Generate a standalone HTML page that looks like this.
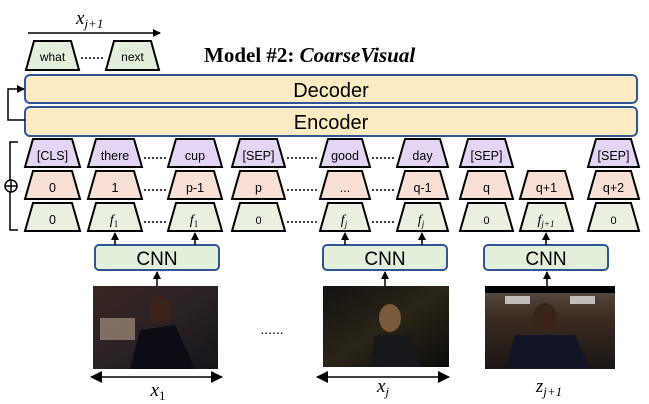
<!DOCTYPE html>
<html><head><meta charset="utf-8"><style>
html,body{margin:0;padding:0;background:#fff;width:649px;height:404px;overflow:hidden}
svg{display:block}
</style></head><body>
<svg width="649" height="404" viewBox="0 0 649 404" xmlns="http://www.w3.org/2000/svg" font-family="Liberation Sans, DejaVu Sans, sans-serif">
<defs>
<marker id="ah" markerWidth="8" markerHeight="8" refX="7" refY="4" orient="auto" markerUnits="userSpaceOnUse"><path d="M0,0 L8,4 L0,8 z" fill="#000"/></marker>
<marker id="ahs" markerWidth="12" markerHeight="12" refX="11" refY="6" orient="auto-start-reverse" markerUnits="userSpaceOnUse"><path d="M0,0 L12,6 L0,12 z" fill="#000"/></marker>
<linearGradient id="g1" x1="0" y1="0" x2="1" y2="1"><stop offset="0" stop-color="#3a2420"/><stop offset=".5" stop-color="#2a2226"/><stop offset="1" stop-color="#15151a"/></linearGradient>
<linearGradient id="g2" x1="0" y1="0" x2="1" y2="1"><stop offset="0" stop-color="#141210"/><stop offset=".5" stop-color="#2a2418"/><stop offset="1" stop-color="#0d0c0a"/></linearGradient>
<linearGradient id="g3" x1="0" y1="0" x2="0" y2="1"><stop offset="0" stop-color="#5a4e44"/><stop offset=".4" stop-color="#3a2a20"/><stop offset="1" stop-color="#1a1614"/></linearGradient>
</defs>

<line x1="28" y1="33" x2="160" y2="33" stroke="#000" stroke-width="1.5" marker-end="url(#ah)"/>
<text x="76" y="24" font-family="Liberation Serif, serif" font-style="italic" font-size="19">x<tspan font-size="13" dy="4">j+1</tspan></text>

<g stroke="#000" stroke-width="2" fill="#e2efda">
<path d="M34,41 L71,41 L79,70 L26,70 Z"/>
<path d="M114,41 L151,41 L159,70 L106,70 Z"/>
</g>
<text x="52.5" y="61" font-size="12" text-anchor="middle">what</text>
<text x="132.5" y="61" font-size="12" text-anchor="middle">next</text>
<line x1="81" y1="58" x2="105" y2="58" stroke="#000" stroke-width="1.5" stroke-dasharray="2,2"/>

<text x="204" y="62" font-family="Liberation Serif, serif" font-weight="bold" font-size="21">Model #2: <tspan font-style="italic">CoarseVisual</tspan></text>

<rect x="25" y="75" width="612" height="28" rx="5" fill="#fdebc4" stroke="#2f5597" stroke-width="2"/>
<rect x="25" y="107" width="612" height="29" rx="5" fill="#fdebc4" stroke="#2f5597" stroke-width="2"/>
<text x="331" y="97" font-size="20" text-anchor="middle">Decoder</text>
<text x="331" y="129" font-size="20" text-anchor="middle">Encoder</text>
<path d="M25,120 L8,120 L8,89 L24,89" fill="none" stroke="#000" stroke-width="1.5" marker-end="url(#ah)"/>

<path d="M18,142 L10,142 L10,230 L18,230" fill="none" stroke="#000" stroke-width="1.5"/>
<circle cx="11" cy="186" r="6" fill="#fff" stroke="#000" stroke-width="1.5"/>
<line x1="5" y1="186" x2="17" y2="186" stroke="#000" stroke-width="1.5"/>
<line x1="11" y1="180" x2="11" y2="192" stroke="#000" stroke-width="1.5"/>

<g stroke="#000" stroke-width="2">
<g fill="#e5d5f5">
<path d="M33,139 L72,139 L80,167 L25,167 Z"/>
<path d="M96,139 L134,139 L142,167 L88,167 Z"/>
<path d="M176,139 L214,139 L222,167 L168,167 Z"/>
<path d="M240,139 L277,139 L285,167 L232,167 Z"/>
<path d="M328,139 L362,139 L370,167 L320,167 Z"/>
<path d="M405,139 L440,139 L448,167 L397,167 Z"/>
<path d="M468,139 L505,139 L513,167 L460,167 Z"/>
<path d="M596,139 L631,139 L639,167 L588,167 Z"/>
</g>
<g fill="#f9e0d4">
<path d="M33,171 L72,171 L80,199 L25,199 Z"/>
<path d="M96,171 L134,171 L142,199 L88,199 Z"/>
<path d="M176,171 L214,171 L222,199 L168,199 Z"/>
<path d="M240,171 L277,171 L285,199 L232,199 Z"/>
<path d="M328,171 L362,171 L370,199 L320,199 Z"/>
<path d="M405,171 L440,171 L448,199 L397,199 Z"/>
<path d="M468,171 L505,171 L513,199 L460,199 Z"/>
<path d="M528,171 L565,171 L573,199 L520,199 Z"/>
<path d="M596,171 L631,171 L639,199 L588,199 Z"/>
</g>
<g fill="#ebf1e1">
<path d="M33,203 L72,203 L80,231 L25,231 Z"/>
<path d="M96,203 L134,203 L142,231 L88,231 Z"/>
<path d="M176,203 L214,203 L222,231 L168,231 Z"/>
<path d="M240,203 L277,203 L285,231 L232,231 Z"/>
<path d="M328,203 L362,203 L370,231 L320,231 Z"/>
<path d="M405,203 L440,203 L448,231 L397,231 Z"/>
<path d="M468,203 L505,203 L513,231 L460,231 Z"/>
<path d="M528,203 L565,203 L573,231 L520,231 Z"/>
<path d="M596,203 L631,203 L639,231 L588,231 Z"/>
</g>
</g>
<g font-size="12.5" text-anchor="middle">
<text x="52.5" y="160">[CLS]</text><text x="115" y="160">there</text><text x="195" y="160">cup</text><text x="258.5" y="160">[SEP]</text>
<text x="345" y="160">good</text><text x="422.5" y="160">day</text><text x="486.5" y="160">[SEP]</text><text x="613.5" y="160">[SEP]</text>
<text x="52.5" y="192">0</text><text x="115" y="192">1</text><text x="195" y="192">p-1</text><text x="258.5" y="192">p</text>
<text x="345" y="192">...</text><text x="422.5" y="192">q-1</text><text x="486.5" y="192">q</text><text x="546.5" y="192">q+1</text><text x="613.5" y="192">q+2</text>
<text x="52.5" y="224">0</text><text x="258.5" y="224" font-size="11">0</text><text x="486.5" y="224" font-size="11">0</text><text x="613.5" y="224" font-size="11">0</text>
</g>
<g font-family="Liberation Serif, serif" font-style="italic" font-size="14" text-anchor="middle">
<text x="114" y="224">f<tspan font-size="9" dy="3" font-style="normal">1</tspan></text>
<text x="194" y="224">f<tspan font-size="9" dy="3" font-style="normal">1</tspan></text>
<text x="344" y="224">f<tspan font-size="9" dy="3">j</tspan></text>
<text x="421" y="224">f<tspan font-size="9" dy="3">j</tspan></text>
<text x="546" y="224">f<tspan font-size="9" dy="3">j+1</tspan></text>
</g>
<g stroke="#000" stroke-width="1.5" stroke-dasharray="2,2">
<line x1="144" y1="158" x2="167" y2="158"/><line x1="287" y1="158" x2="319" y2="158"/><line x1="372" y1="158" x2="396" y2="158"/>
<line x1="144" y1="190" x2="167" y2="190"/><line x1="287" y1="190" x2="319" y2="190"/><line x1="372" y1="190" x2="396" y2="190"/>
<line x1="144" y1="222" x2="167" y2="222"/><line x1="287" y1="222" x2="319" y2="222"/><line x1="372" y1="222" x2="396" y2="222"/>
</g>

<g fill="#e2efda" stroke="#2f5597" stroke-width="2">
<rect x="95" y="245" width="124" height="25" rx="4"/>
<rect x="323" y="245" width="124" height="25" rx="4"/>
<rect x="484" y="245" width="124" height="25" rx="4"/>
</g>
<g font-size="19" text-anchor="middle">
<text x="157" y="265">CNN</text><text x="385" y="265">CNN</text><text x="546" y="265">CNN</text>
</g>
<g stroke="#000" stroke-width="1.5" marker-end="url(#ah)">
<line x1="115" y1="245" x2="115" y2="233"/><line x1="195" y1="245" x2="195" y2="233"/>
<line x1="345" y1="245" x2="345" y2="233"/><line x1="422" y1="245" x2="422" y2="233"/>
<line x1="546" y1="245" x2="546" y2="233"/>
<line x1="157" y1="286" x2="157" y2="272"/><line x1="385" y1="286" x2="385" y2="272"/><line x1="547" y1="286" x2="547" y2="272"/>
</g>

<rect x="93" y="286" width="125" height="83" fill="url(#g1)"/>
<rect x="100" y="318" width="35" height="22" fill="#b9a08c" opacity=".6"/>
<ellipse cx="160" cy="310" rx="11" ry="14" fill="#3a2218"/>
<path d="M130,369 L140,330 L175,325 L195,369 Z" fill="#0c0c14"/>
<rect x="323" y="286" width="126" height="81" fill="url(#g2)"/>
<ellipse cx="390" cy="318" rx="11" ry="14" fill="#7a5a3a"/>
<path d="M370,367 L375,335 L410,335 L420,367 Z" fill="#16181c"/>
<rect x="485" y="286" width="130" height="83" fill="url(#g3)"/>
<rect x="485" y="286" width="130" height="7" fill="#000"/>
<rect x="505" y="296" width="25" height="8" fill="#ddd" opacity=".8"/>
<rect x="570" y="296" width="25" height="8" fill="#ddd" opacity=".8"/>
<ellipse cx="545" cy="318" rx="12" ry="15" fill="#3a2418"/>
<path d="M505,369 L515,335 L575,335 L590,369 Z" fill="#101424"/>

<text x="272" y="334" font-size="14" text-anchor="middle">......</text>

<g stroke="#000" stroke-width="1.5" marker-start="url(#ahs)" marker-end="url(#ahs)">
<line x1="91" y1="377" x2="222" y2="377"/>
<line x1="317" y1="377" x2="449" y2="377"/>
</g>
<g font-family="Liberation Serif, serif" font-style="italic" font-size="19" text-anchor="middle">
<text x="158" y="396">x<tspan font-size="13" dy="4" font-style="normal">1</tspan></text>
<text x="383" y="392">x<tspan font-size="13" dy="4">j</tspan></text>
<text x="549" y="392">z<tspan font-size="13" dy="4">j+1</tspan></text>
</g>
</svg>
</body></html>
